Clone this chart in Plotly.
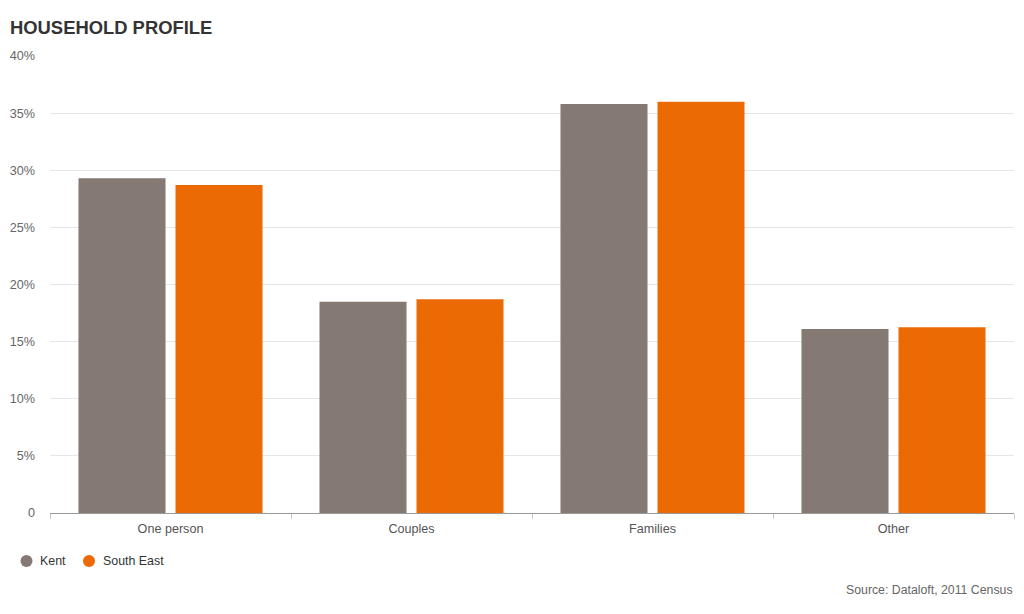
import plotly.graph_objects as go

categories = ["One person", "Couples", "Families", "Other"]
kent = [29.3, 18.5, 35.8, 16.1]
south_east = [28.7, 18.7, 36.0, 16.25]
series_names = ["Kent", "South East"]
colors = ["#847973", "#EB6A04"]
y_ticks = [0, 5, 10, 15, 20, 25, 30, 35, 40]
y_labels = ["0", "5%", "10%", "15%", "20%", "25%", "30%", "35%", "40%"]

W, H = 1024, 614
fig = go.Figure()
for name, vals, col in zip(series_names, [kent, south_east], colors):
    fig.add_trace(go.Bar(x=categories, y=vals, name=name, marker=dict(color=col, line=dict(width=0)),
                         showlegend=False))

# custom legend (circles + labels) below the plot
legend_x = [26.5, 89]
shapes = []
annotations = []
for name, col, lx in zip(series_names, colors, legend_x):
    shapes.append(dict(type="circle", xref="paper", yref="paper",
                       x0=(lx - 6 - 50) / (W - 60), x1=(lx + 6 - 50) / (W - 60),
                       y0=(513 - 561 - 6) / (513 - 56), y1=(513 - 561 + 6) / (513 - 56),
                       fillcolor=col, line=dict(width=0)))
    annotations.append(dict(text=name, xref="paper", yref="paper",
                            x=(lx + 11.5 - 50) / (W - 60), xanchor="left",
                            y=(513 - 561) / (513 - 56), yanchor="middle", showarrow=False,
                            font=dict(size=12.4, color="#333")))
annotations.append(dict(text="Source: Dataloft, 2011 Census", xref="paper", yref="paper",
                        x=(1015 - 50) / (W - 60), xanchor="right",
                        y=(513 - 590) / (513 - 56), yanchor="middle", showarrow=False,
                        font=dict(size=12.3, color="#666")))

fig.update_layout(
    width=W, height=H,
    paper_bgcolor="white", plot_bgcolor="white",
    font=dict(family="Liberation Sans, Arial, sans-serif", color="#555", size=12.6),
    margin=dict(l=50, r=10, t=56, b=101),
    barmode="group", bargap=0.195, bargroupgap=0.103,
    showlegend=False,
    title=dict(text="<b>HOUSEHOLD PROFILE</b>", x=10 / W, xanchor="left", y=1 - 28 / H, yanchor="middle",
               font=dict(size=18.4, color="#333")),
    shapes=shapes,
    annotations=annotations,
)
fig.update_xaxes(showline=True, linecolor="#999", linewidth=1, ticks="outside", tickson="boundaries",
                 ticklen=5, tickcolor="#c8c8c8", tickfont=dict(color="#555", size=12.6), showgrid=False,
                 ticklabelstandoff=4)
fig.update_yaxes(range=[0, 40], tickvals=y_ticks, ticktext=y_labels, showgrid=True, gridcolor="#e6e6e6",
                 zeroline=False, showline=False, tickfont=dict(color="#666", size=12.6), ticks="",
                 ticklabelstandoff=14)

fig.write_html("out.html", config={"displayModeBar": False},
               post_script="document.body.style.margin='0';")
